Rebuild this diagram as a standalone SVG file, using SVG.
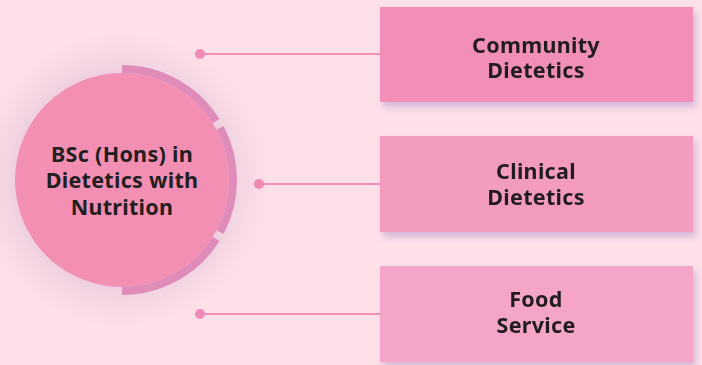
<svg xmlns="http://www.w3.org/2000/svg" width="702" height="365" viewBox="0 0 702 365">
<defs>
<radialGradient id="halo" cx="122" cy="180" r="160" gradientUnits="userSpaceOnUse">
<stop offset="0.6" stop-color="#d8b4d2" stop-opacity="0.55"/>
<stop offset="0.78" stop-color="#e9c9dd" stop-opacity="0.35"/>
<stop offset="1" stop-color="#fde0e8" stop-opacity="0"/>
</radialGradient>
<filter id="boxsh" x="-10%" y="-20%" width="125%" height="150%">
<feGaussianBlur in="SourceAlpha" stdDeviation="3" result="b"/>
<feOffset in="b" dx="3" dy="5" result="o"/>
<feFlood flood-color="#a88ac8" flood-opacity="0.45"/>
<feComposite in2="o" operator="in" result="s"/>
<feMerge><feMergeNode in="s"/><feMergeNode in="SourceGraphic"/></feMerge>
</filter>
</defs>
<style>
.line{stroke:#f28fb8;stroke-width:2;fill:none}
.dot{fill:#f08ab5}
.arc{fill:none;stroke:#e08cbb;stroke-width:8}
.t{font-family:"Noto Sans","Liberation Sans",sans-serif;font-weight:700;font-size:21.5px;fill:#231f20;text-anchor:middle;font-variant-ligatures:none;letter-spacing:0.3px}
</style>
<rect width="702" height="365" fill="#fde0e8"/>
<circle cx="122" cy="180" r="165" fill="url(#halo)"/>
<g id="connectors">
<line class="line" x1="200" y1="54" x2="382" y2="54"/>
<circle class="dot" cx="200" cy="54" r="5"/>
<line class="line" x1="259" y1="184" x2="382" y2="184"/>
<circle class="dot" cx="259" cy="184" r="5"/>
<line class="line" x1="200" y1="314" x2="382" y2="314"/>
<circle class="dot" cx="200" cy="314" r="5"/>
</g>
<g id="center">
<path class="arc" d="M122,69 A111,111 0 0 1 216.1,121.2"/>
<path class="arc" d="M220,127.9 A111,111 0 0 1 220,232.1"/>
<path class="arc" d="M216.1,238.8 A111,111 0 0 1 122,291"/>
<circle cx="122" cy="180" r="107" fill="#f28fb3"/>
<text class="t" x="122" y="162">BSc (Hons) in</text>
<text class="t" x="122" y="188">Dietetics with</text>
<text class="t" x="122" y="215">Nutrition</text>
</g>
<g id="box1" filter="url(#boxsh)">
<rect x="380" y="7" width="313" height="95" fill="#f28fb8"/>
<text class="t" x="536" y="53">Community</text>
<text class="t" x="536" y="78">Dietetics</text>
</g>
<g id="box2" filter="url(#boxsh)">
<rect x="380" y="136" width="313" height="96" fill="#f49cc0"/>
<text class="t" x="536" y="179">Clinical</text>
<text class="t" x="536" y="205">Dietetics</text>
</g>
<g id="box3" filter="url(#boxsh)">
<rect x="380" y="266" width="313" height="96" fill="#f5a6c8"/>
<text class="t" x="536" y="307">Food</text>
<text class="t" x="536" y="333">Service</text>
</g>
</svg>
